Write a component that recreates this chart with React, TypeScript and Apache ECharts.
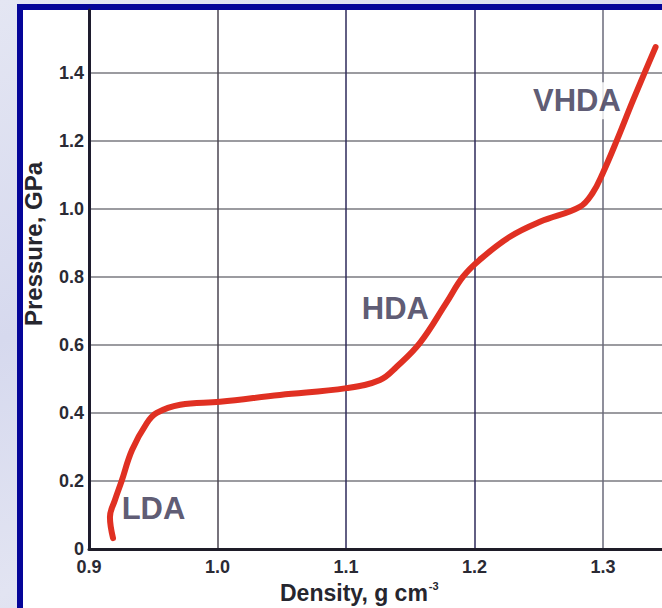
import React, { useEffect, useRef } from "react";
import * as echarts from "echarts";

const densities = [0.9187, 0.9163, 0.9202, 0.9254, 0.9335, 0.945, 0.9527, 0.971, 1.002, 1.0486, 1.1005, 1.1265, 1.1395, 1.1576, 1.178, 1.191, 1.204, 1.2276, 1.251, 1.282, 1.292, 1.3, 1.311, 1.3235, 1.341];
const pressures = [0.032, 0.094, 0.144, 0.2, 0.291, 0.37, 0.4, 0.424, 0.433, 0.453, 0.473, 0.497, 0.536, 0.606, 0.723, 0.8, 0.85, 0.918, 0.962, 1.006, 1.047, 1.106, 1.203, 1.32, 1.476];

const phaseNames = ["LDA", "HDA", "VHDA"];
const phaseDensities = [0.9502, 1.1385, 1.2798];
const phasePressures = [0.119, 0.707, 1.318];

const xMin = 0.9;
const xMax = 1.346;
const xStep = 0.1;
const yMin = 0;
const yMax = 1.585;
const yStep = 0.2;

const FONT = "'Liberation Sans', Arial, Helvetica, sans-serif";

export default function App() {
  const ref = useRef<HTMLDivElement>(null);

  useEffect(() => {
    if (!ref.current) return;
    const chart = echarts.init(ref.current, undefined, { renderer: "svg" });
    const curve = densities.map((d, i) => [d, pressures[i]]);
    const phases = phaseNames.map((n, i) => ({ name: n, value: [phaseDensities[i], phasePressures[i]] }));
    chart.setOption({
      animation: false,
      backgroundColor: "transparent",
      grid: { left: 89, top: 10, right: 0, bottom: 59, containLabel: false },
      xAxis: {
        type: "value",
        min: xMin,
        max: xMax,
        interval: xStep,
        axisLine: { show: true, onZero: false, lineStyle: { color: "#1e1c28", width: 3 } },
        axisTick: { show: false },
        axisLabel: {
          showMaxLabel: false,
          margin: 9,
          color: "#2a2a34",
          fontFamily: FONT,
          fontWeight: "bold",
          fontSize: 18,
          formatter: (v: number) => v.toFixed(1),
        },
        splitLine: {
          show: true,
          showMaxLine: false,
          lineStyle: { color: ["#4a4550", "#4a4550", "#2e2a5a", "#2e2a5a", "#6a6a7a"], width: 1.5 },
        },
      },
      yAxis: {
        type: "value",
        min: yMin,
        max: yMax,
        interval: yStep,
        axisLine: { show: true, onZero: false, lineStyle: { color: "#1e1c2e", width: 3 } },
        axisTick: { show: false },
        axisLabel: {
          showMaxLabel: false,
          margin: 5,
          color: "#2a2a34",
          fontFamily: FONT,
          fontWeight: "bold",
          fontSize: 18,
          formatter: (v: number) => (v === 0 ? "0" : v.toFixed(1)),
        },
        splitLine: {
          show: true,
          showMaxLine: false,
          lineStyle: { color: "#7a7a80", width: 1.5 },
        },
      },
      graphic: [
        {
          type: "text",
          x: 33,
          y: 244,
          rotation: Math.PI / 2,
          style: {
            text: "Pressure, GPa",
            fill: "#26262e",
            font: `bold 24px ${FONT}`,
            align: "center",
            verticalAlign: "middle",
          },
        },
        {
          type: "text",
          x: 280,
          y: 593,
          style: {
            text: "Density, g cm{sup|-3}",
            fill: "#26262e",
            font: `bold 23px ${FONT}`,
            align: "left",
            verticalAlign: "middle",
            rich: {
              sup: {
                fontSize: 11,
                fontWeight: "bold",
                fontFamily: FONT,
                fill: "#26262e",
                padding: [0, 0, 14, 1],
              },
            },
          },
        },
      ],
      series: [
        {
          type: "scatter",
          silent: true,
          symbolSize: 0,
          data: phases,
          z: 2,
          label: {
            show: true,
            position: "inside",
            formatter: (p: any) => p.name,
            color: "#34304f",
            fontFamily: FONT,
            fontWeight: "bold",
            fontSize: 31,
            backgroundColor: "#ffffff",
            padding: [3, 2],
          },
        },
        {
          type: "line",
          silent: true,
          data: curve,
          smooth: 0.4,
          symbol: "none",
          z: 3,
          lineStyle: { color: "#e03022", width: 6, cap: "round" },
        },
      ],
    });
    return () => chart.dispose();
  }, []);

  return (
    <div
      style={{
        position: "absolute",
        left: 0,
        top: 0,
        width: 662,
        height: 608,
        overflow: "hidden",
        background: "linear-gradient(160deg, #e4e6f3 0%, #d6d9ee 40%, #e2e4f2 70%, #d3d6ec 100%)",
      }}
    >
      <div
        style={{
          position: "absolute",
          left: 17,
          top: 4,
          width: 645,
          height: 604,
          boxSizing: "border-box",
          borderLeft: "6px solid #050599",
          borderTop: "6px solid #050599",
          background: "#ffffff",
        }}
      />
      <div ref={ref} style={{ position: "absolute", left: 0, top: 0, width: 662, height: 608 }} />
    </div>
  );
}
